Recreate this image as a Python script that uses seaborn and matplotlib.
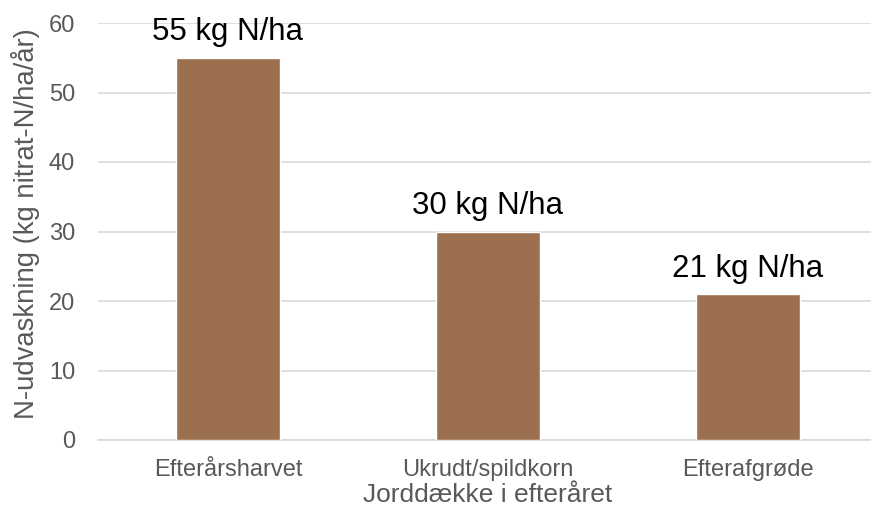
import matplotlib
matplotlib.use("Agg")
import matplotlib.pyplot as plt
import seaborn as sns
import pandas as pd

categories = ["Efterårsharvet", "Ukrudt/spildkorn", "Efterafgrøde"]
values = [55, 30, 21]
labels = ["55 kg N/ha", "30 kg N/ha", "21 kg N/ha"]

sns.set_theme(style="white")
plt.rcParams['font.family'] = ['Liberation Sans', 'DejaVu Sans']

df = pd.DataFrame({"cat": categories, "val": values})

fig = plt.figure(figsize=(8.71, 5.08), dpi=100)
ax = fig.add_axes([98/871, 1-440/508, 780/871, (440-23)/508])
sns.barplot(data=df, x="cat", y="val", color="#9C6F4E", width=0.4, saturation=1, ax=ax, zorder=3)

ax.set_ylim(0, 60)
ax.set_yticks(range(0, 61, 10))
ax.set_xlim(-0.5, 2.5)
ax.yaxis.grid(True, color="#D9D9D9", linewidth=1.2, zorder=0)
ax.set_axisbelow(True)
for s in ["top", "right", "left"]:
    ax.spines[s].set_visible(False)
ax.spines["bottom"].set_color("#D9D9D9")
ax.spines["bottom"].set_linewidth(1.2)
ax.tick_params(axis="both", length=0, labelsize=17, labelcolor="#595959")
ax.tick_params(axis="y", pad=16.5)
ax.tick_params(axis="x", pad=14)

for i, (v, t) in enumerate(zip(values, labels)):
    ax.text(i, v + 2.5, t, ha="center", va="baseline", fontsize=22.5, color="black")

ax.set_xlabel("Jorddække i efteråret", fontsize=19, color="#595959", labelpad=1)
ax.set_ylabel("N-udvaskning (kg nitrat-N/ha/år)", fontsize=19.8, color="#595959", labelpad=6)
ax.yaxis.label.set_y(0.52)

fig.savefig("out.png", dpi=100)
